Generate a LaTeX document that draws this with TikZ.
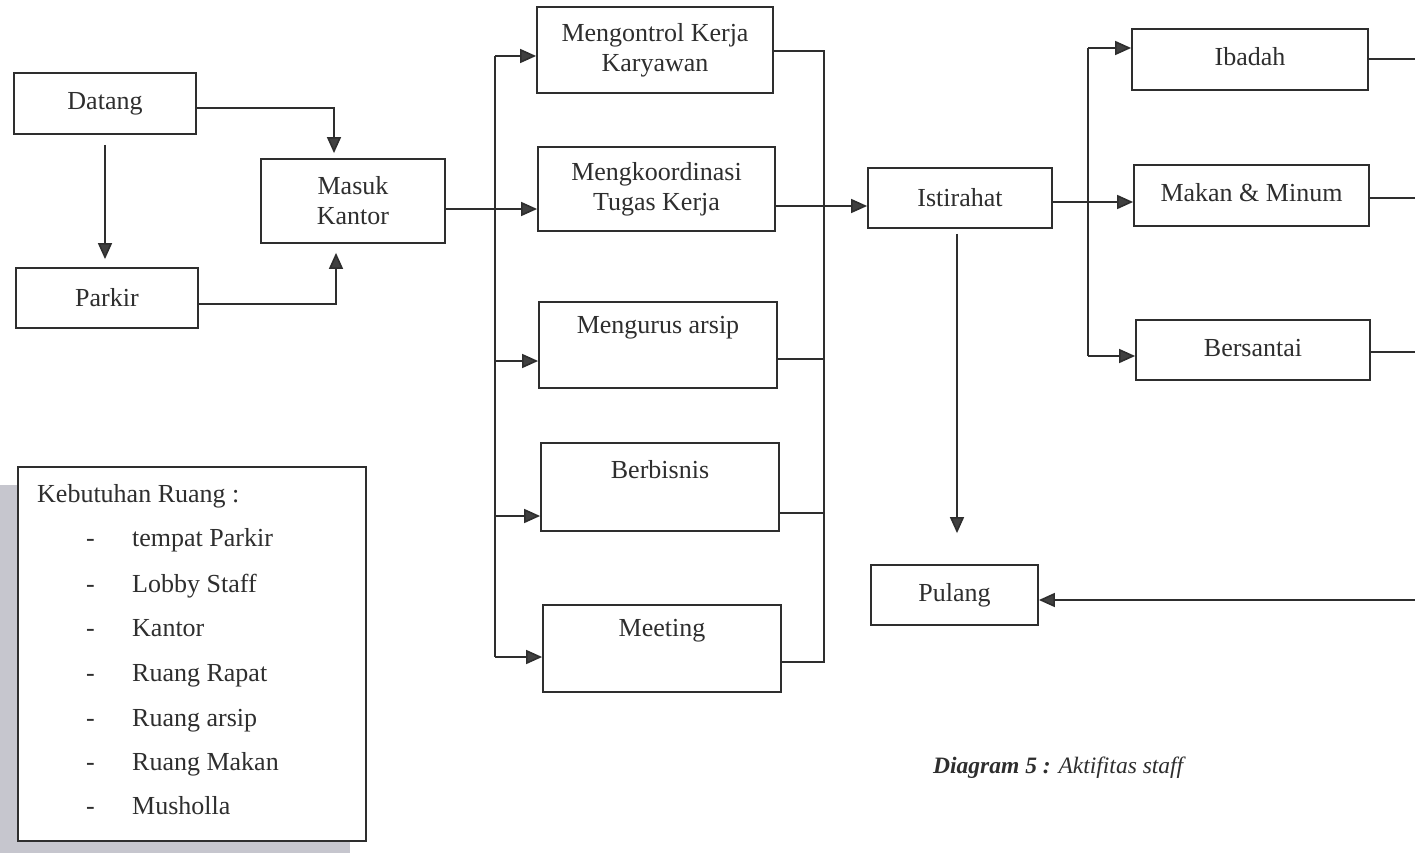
\documentclass[tikz,border=0pt]{standalone}
\usepackage{fontspec}
\setmainfont{Liberation Serif}
\usetikzlibrary{arrows.meta}
\definecolor{ink}{HTML}{2E2E2E}
\definecolor{tipc}{HTML}{404040}
\definecolor{legendgray}{RGB}{198,198,206}
\begin{document}
\begin{tikzpicture}[x=1pt,y=-1pt,
  box/.style={draw=ink, line width=1.8pt, rectangle, inner sep=0pt, text=ink,
              align=center, font=\fontsize{26}{30}\selectfont},
  lbl/.style={text=ink, inner sep=0pt, align=center, font=\fontsize{26}{30}\selectfont},
  wire/.style={draw=ink, line width=1.6pt},
  arr/.style={wire, -{Triangle[length=16pt,width=14pt,fill=tipc]}}]

\useasboundingbox[fill=white] (0,0) rectangle (1415,853);

% ---- arrival ----
\node[box, minimum width=182pt, minimum height=61pt] (datang) at (105,103.5) {Datang};
\node[box, minimum width=182pt, minimum height=60pt] (parkir) at (107,298) {Parkir};
\node[box, minimum width=184pt, minimum height=84pt] (masuk)  at (353,201) {Masuk\\Kantor};

\draw[arr, shorten <=10pt, shorten >=8pt] (datang.south) -- (datang.south |- parkir.north);
\draw[arr, shorten >=5pt] ([yshift=-4.5pt]datang.east) -| ([xshift=-19pt]masuk.north);
\draw[arr, shorten >=9pt] ([yshift=-6pt]parkir.east) -| ([xshift=-17pt]masuk.south);

% ---- office work ----
\node[box, minimum width=236pt, minimum height=86pt] (kontrol) at (655,50) {Mengontrol Kerja\\Karyawan};
\node[box, minimum width=237pt, minimum height=84pt] (koord)   at (656.5,189) {Mengkoordinasi\\Tugas Kerja};
\node[box, minimum width=238pt, minimum height=86pt] (arsip)   at (658,345) {};
\node[lbl] (arsipT) at (658,328) {Mengurus arsip};
\node[box, minimum width=238pt, minimum height=88pt] (bisnis)  at (660,487) {};
\node[lbl] (bisnisT) at (660,470) {Berbisnis};
\node[box, minimum width=238pt, minimum height=87pt] (meeting) at (662,648.5) {};
\node[lbl] (meetingT) at (662,631) {Meeting};

% left distribution bus
\coordinate (lt1) at (495,56);
\coordinate (lt3) at (495,361);
\coordinate (lt4) at (495,516);
\coordinate (lt5) at (495,657);
\draw[wire] (lt1) -- (lt5);
\draw[arr] ([yshift=-8pt]masuk.east) -- ([yshift=-20pt]koord.west);
\draw[arr] (lt1) -- ([yshift=-6pt]kontrol.west);
\draw[arr] (lt3) -- ([yshift=-16pt]arsip.west);
\draw[arr] (lt4) -- ([yshift=-29pt]bisnis.west);
\draw[arr] (lt5) -- ([yshift=-8.5pt]meeting.west);

% right collecting bus
\coordinate (rt1) at (824,51);
\coordinate (rt3) at (824,359);
\coordinate (rt4) at (824,513);
\coordinate (rt5) at (824,662);
\draw[wire] ([yshift=-1pt]kontrol.east) -- (rt1) -- (rt5) -- ([yshift=-13.5pt]meeting.east);
\draw[wire] ([yshift=-14pt]arsip.east) -- (rt3);
\draw[wire] ([yshift=-26pt]bisnis.east) -- (rt4);

% ---- break ----
\node[box, minimum width=184pt, minimum height=60pt] (ist) at (960,198) {Istirahat};
\draw[arr] ([yshift=-17pt]koord.east) -- ([yshift=-8pt]ist.west);

\node[box, minimum width=236pt, minimum height=61pt] (ibadah) at (1250,59.5) {};
\node[lbl] (ibadahT) at (1250,57) {Ibadah};
\node[box, minimum width=235pt, minimum height=61pt] (makan)  at (1251.5,195.5) {};
\node[lbl] (makanT) at (1251.5,193) {Makan \& Minum};
\node[box, minimum width=234pt, minimum height=60pt] (santai) at (1253,350) {};
\node[lbl] (santaiT) at (1253,348) {Bersantai};

\coordinate (rr1) at (1088,48);
\coordinate (rr3) at (1088,356);
\draw[wire] (rr1) -- (rr3);
\draw[arr] ([yshift=-4pt]ist.east) -- ([yshift=-6.5pt]makan.west);
\draw[arr] (rr1) -- ([yshift=11.5pt]ibadah.west);
\draw[arr] (rr3) -- ([yshift=-6pt]santai.west);

% lines leaving to the right
\coordinate (o1) at (1415,59);
\coordinate (o2) at (1415,198);
\coordinate (o3) at (1415,352);
\coordinate (o4) at (1415,600);
\draw[wire] ([yshift=0.5pt]ibadah.east) -- (o1);
\draw[wire] ([yshift=-2.5pt]makan.east) -- (o2);
\draw[wire] ([yshift=-2pt]santai.east) -- (o3);

% ---- going home ----
\node[box, minimum width=167pt, minimum height=60pt] (pulang) at (954.5,595) {Pulang};
\draw[arr] (o4) -- ([yshift=-5pt]pulang.east);
\draw[arr, shorten <=5pt, shorten >=31pt] ([xshift=-3pt]ist.south) -- ([xshift=2.5pt]pulang.north);

% ---- space requirements ----
\fill[legendgray] (0,485) rectangle (350,853);
\node[draw=ink, line width=1.8pt, fill=white, minimum width=348pt, minimum height=374pt,
      inner sep=0pt] (legend) at (192,654) {};
\node[lbl, anchor=base west] (kr) at (37,502) {Kebutuhan Ruang :};
\foreach \y/\t [count=\i] in {546/tempat Parkir, 592/Lobby Staff, 636/Kantor,
    681/Ruang Rapat, 726/Ruang arsip, 770/Ruang Makan, 814/Musholla}{
  \node[lbl, anchor=base west] (dash\i) at (86,\y) {-};
  \node[lbl, anchor=base west] (item\i) at (132,\y) {\t};
}

% ---- caption ----
\node[anchor=base west, inner sep=0pt, text=ink, font=\fontsize{23.5}{28}\selectfont]
  (cap) at (933,773) {\textbf{\textit{Diagram 5 :}} \textit{Aktifitas staff}};

\end{tikzpicture}
\end{document}
